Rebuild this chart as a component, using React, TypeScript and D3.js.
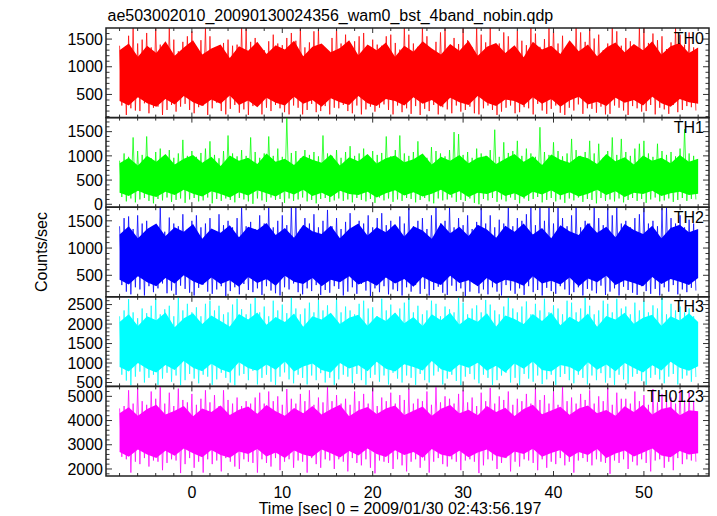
import React from 'react';
import * as d3 from 'd3';

const TITLE = 'ae503002010_20090130024356_wam0_bst_4band_nobin.qdp';
const X_LABEL = 'Time [sec] 0 = 2009/01/30 02:43:56.197';
const Y_LABEL = 'Counts/sec';
const T_START = -8;
const T_END = 56;
const X_TICKS = [0, 10, 20, 30, 40, 50];

// half-second extreme highs / lows
const TH0_HI = [
  1380, 1300, 1560, 1700, 1420, 1490, 1610, 1350, 1700, 1400, 1320, 1700, 1490, 1280, 1450, 1550,
  1640, 1360, 1480, 1700, 1550, 1330, 1260, 1430, 1490, 1380, 1400, 1700, 1700, 1450, 1520, 1340,
  1300, 1460, 1580, 1420, 1390, 1520, 1610, 1470, 1700, 1350, 1440, 1640, 1670, 1380, 1290, 1520,
  1700, 1420, 1580, 1360, 1460, 1550, 1610, 1330, 1490, 1400, 1380, 1550, 1580, 1430, 1310, 1700,
  1580, 1420, 1360, 1700, 1550, 1300, 1450, 1620, 1700, 1380, 1520, 1410, 1700, 1480, 1350, 1700,
  1580, 1440, 1700, 1330, 1420, 1620, 1550, 1300, 1650, 1470, 1390, 1700, 1600, 1360, 1500, 1700,
  1700, 1420, 1560, 1340, 1380, 1700, 1620, 1450, 1700, 1510, 1580, 1300, 1420, 1700, 1640, 1380,
  1520, 1460, 1350, 1700, 1700, 1430, 1600, 1480, 1550, 1320, 1440, 1700, 1580, 1400, 1620, 1350];
const TH0_LO = [
  300, 130, 250, 210, 200, 340, 160, 260, 280, 130, 220, 310, 190, 280, 330, 220,
  160, 270, 300, 130, 250, 350, 200, 140, 240, 310, 170, 230, 130, 290, 320, 140,
  260, 200, 310, 250, 180, 140, 300, 260, 140, 220, 330, 180, 200, 290, 140, 260,
  250, 310, 200, 160, 300, 140, 230, 280, 190, 260, 320, 220, 140, 300, 180, 250,
  150, 290, 130, 240, 200, 310, 140, 270, 230, 160, 300, 190, 220, 280, 160, 140,
  250, 300, 220, 130, 190, 260, 300, 160, 180, 270, 250, 140, 330, 210, 150, 240,
  300, 170, 130, 260, 210, 320, 150, 250, 240, 170, 280, 140, 150, 300, 260, 210,
  130, 290, 250, 190, 200, 310, 140, 260, 230, 150, 310, 180, 220, 290, 270, 210];
// one-second dense-band edges
const TH0_CORE_HI = [1300, 1420, 1180, 1380, 1250, 1460, 1200, 1350, 1480, 1220, 1330, 1400, 1160, 1370, 1290, 1450, 1230, 1390, 1310, 1470, 1190, 1360, 1420, 1260, 1340, 1480, 1210, 1400, 1300, 1440, 1180, 1380,
  1270, 1460, 1330, 1220, 1410, 1290, 1470, 1200, 1360, 1430, 1250, 1390, 1170, 1450, 1310, 1380, 1230, 1480, 1280, 1400, 1190, 1350, 1440, 1260, 1410, 1300, 1460, 1220, 1370, 1430, 1250, 1350];
const TH0_CORE_LO = [380, 300, 450, 340, 280, 420, 320, 470, 360, 290, 410, 330, 480, 310, 390, 270, 440, 350, 300, 460, 330, 400, 280, 430, 360, 310, 470, 340, 290, 420, 380, 300,
  450, 330, 400, 280, 440, 360, 310, 470, 350, 290, 410, 380, 300, 450, 330, 420, 280, 390, 460, 320, 370, 290, 440, 350, 400, 300, 460, 340, 280, 420, 360, 330];

const TH1_HI = [
  900, 1050, 980, 1380, 1100, 1020, 1400, 950, 1080, 1150, 1000, 1120, 960, 1050, 1330, 1000,
  1100, 980, 1060, 1150, 1300, 1020, 950, 1100, 1420, 1050, 990, 1120, 1000, 1380, 1080, 960,
  1050, 1400, 1000, 1150, 980, 1780, 1060, 1100, 950, 1120, 1020, 1080, 990, 1420, 1050, 1000,
  1120, 960, 1080, 1200, 1000, 1050, 1150, 980, 1100, 1020, 1060, 1400, 990, 1120, 1420, 1050,
  1000, 1080, 1300, 1020, 960, 1180, 1100, 1050, 990, 1120, 1490, 1450, 1020, 1080, 960, 1150,
  1050, 1000, 1120, 1540, 980, 1280, 1060, 1100, 1310, 1000, 1150, 1050, 980, 1590, 1080, 1020,
  1280, 1100, 990, 1050, 1350, 1120, 1000, 1080, 1310, 1050, 1250, 960, 1100, 1380, 1020, 1350,
  1080, 1000, 1150, 1250, 1310, 1050, 980, 1250, 1100, 1020, 1080, 990, 1150, 1550, 1050, 1000];
const TH1_LO = [
  150, 60, 120, 40, 100, 130, 70, 20, 110, 80, 140, 50, 90, 120, 30, 100,
  130, 60, 80, 140, 20, 110, 70, 120, 90, 40, 130, 100, 60, 10, 120, 80,
  50, 140, 90, 110, 30, 120, 70, 100, 140, 60, 90, 20, 110, 130, 50, 80,
  120, 70, 100, 40, 130, 90, 60, 110, 30, 140, 80, 120, 50, 100, 70, 130,
  110, 40, 90, 130, 60, 20, 120, 80, 100, 140, 50, 90, 70, 120, 30, 0,
  110, 80, 130, 50, 100, 60, 140, 90, 20, 120, 70, 110, 150, 40, 90, 130,
  60, 100, 30, 120, 80, 140, 50, 110, 90, 20, 130, 70, 100, 60, 120, 40,
  90, 130, 70, 110, 30, 100, 140, 60, 80, 120, 50, 90, 130, 70, 110, 100];
const TH1_CORE_HI = [850, 960, 800, 1000, 880, 1040, 820, 940, 1020, 860, 980, 790, 1010, 900, 960, 830, 1050, 880, 940, 810, 1000, 920, 860, 1030, 800, 970, 890, 1040, 840, 950, 1010, 870,
  930, 1050, 820, 980, 900, 1020, 850, 960, 1000, 830, 940, 1040, 880, 990, 810, 1030, 920, 860, 1000, 950, 830, 1040, 890, 970, 820, 1010, 900, 960, 850, 1020, 880, 940];
const TH1_CORE_LO = [240, 170, 280, 200, 150, 260, 190, 300, 220, 160, 270, 210, 140, 250, 180, 290, 230, 160, 270, 200, 300, 170, 240, 150, 280, 210, 190, 260, 140, 230, 290, 180,
  250, 160, 220, 300, 190, 270, 150, 240, 210, 280, 170, 230, 140, 260, 200, 290, 180, 250, 160, 220, 300, 190, 270, 150, 240, 210, 280, 170, 230, 260, 190, 220];

const TH2_HI = [
  1400, 1550, 1580, 1350, 1600, 1450, 1500, 1380, 1420, 1740, 1300, 1560, 1450, 1400, 1620, 1350,
  1500, 1600, 1380, 1450, 1550, 1300, 1620, 1420, 1500, 1380, 1550, 1740, 1400, 1480, 1350, 1600,
  1450, 1740, 1380, 1500, 1600, 1420, 1740, 1740, 1350, 1550, 1450, 1620, 1380, 1500, 1700, 1400,
  1550, 1350, 1480, 1640, 1400, 1500, 1450, 1600, 1380, 1550, 1640, 1420, 1500, 1350, 1580, 1450,
  1740, 1400, 1500, 1550, 1350, 1600, 1740, 1450, 1500, 1740, 1380, 1550, 1420, 1600, 1350, 1480,
  1740, 1450, 1600, 1380, 1520, 1450, 1740, 1400, 1550, 1500, 1620, 1740, 1420, 1740, 1500, 1740,
  1450, 1740, 1550, 1400, 1600, 1740, 1380, 1500, 1450, 1740, 1550, 1420, 1740, 1600, 1740, 1450,
  1500, 1380, 1550, 1620, 1740, 1450, 1500, 1400, 1740, 1740, 1550, 1450, 1600, 1380, 1520, 1450];
const TH2_LO = [
  320, 200, 150, 280, 240, 130, 300, 190, 260, 350, 170, 220, 140, 310, 250, 180,
  130, 270, 330, 200, 160, 240, 300, 120, 210, 280, 150, 340, 230, 190, 260, 140,
  300, 220, 170, 130, 280, 240, 350, 190, 150, 260, 210, 320, 140, 230, 180, 300,
  250, 130, 200, 280, 160, 340, 220, 120, 260, 190, 300, 150, 240, 210, 130, 280,
  200, 320, 160, 250, 130, 230, 290, 180, 140, 310, 210, 260, 120, 200, 340, 170,
  240, 150, 280, 200, 130, 320, 220, 160, 260, 140, 300, 190, 230, 130, 270, 210,
  160, 300, 240, 140, 190, 280, 130, 250, 220, 170, 310, 140, 200, 260, 130, 290,
  230, 180, 140, 300, 210, 160, 250, 130, 280, 200, 320, 150, 240, 190, 270, 220];
const TH2_CORE_HI = [1250, 1400, 1180, 1350, 1450, 1220, 1380, 1300, 1440, 1170, 1360, 1280, 1420, 1200, 1390, 1330, 1460, 1240, 1370, 1190, 1430, 1310, 1260, 1410, 1180, 1350, 1450, 1230, 1380, 1290, 1440, 1210,
  1400, 1320, 1170, 1460, 1270, 1390, 1220, 1430, 1340, 1190, 1410, 1300, 1450, 1250, 1370, 1180, 1420, 1310, 1240, 1460, 1280, 1390, 1200, 1440, 1330, 1260, 1410, 1180, 1370, 1430, 1290, 1350];
const TH2_CORE_LO = [420, 330, 480, 370, 300, 450, 350, 500, 390, 320, 460, 340, 410, 290, 470, 360, 430, 310, 490, 380, 340, 450, 300, 420, 370, 480, 330, 400, 310, 460, 350, 430,
  290, 470, 380, 320, 490, 360, 410, 300, 450, 340, 420, 380, 310, 480, 350, 400, 330, 460, 300, 440, 370, 490, 320, 410, 360, 300, 470, 340, 430, 380, 320, 450];

const TH3_HI = [
  2200, 2350, 2640, 2300, 2150, 2400, 2280, 2470, 2640, 2250, 2380, 2470, 2200, 2680, 2350, 2520,
  2300, 2430, 2200, 2520, 2600, 2350, 2470, 2250, 2300, 2500, 2650, 2380, 2250, 2520, 2680, 2300,
  2450, 2200, 2600, 2350, 2500, 2280, 2680, 2400, 2250, 2400, 2550, 2300, 2620, 2350, 2480, 2200,
  2680, 2300, 2450, 2350, 2250, 2520, 2600, 2400, 2430, 2200, 2650, 2350, 2500, 2280, 2400, 2550,
  2680, 2300, 2470, 2250, 2350, 2600, 2520, 2200, 2450, 2380, 2300, 2680, 2550, 2250, 2400, 2480,
  2300, 2620, 2500, 2350, 2250, 2450, 2680, 2400, 2300, 2450, 2580, 2250, 2520, 2350, 2650, 2300,
  2480, 2400, 2250, 2600, 2550, 2300, 2400, 2680, 2470, 2250, 2350, 2600, 2520, 2300, 2650, 2400,
  2450, 2250, 2550, 2350, 2600, 2300, 2480, 2400, 2680, 2250, 2520, 2350, 2450, 2300, 2400, 2200];
const TH3_LO = [
  700, 550, 430, 650, 780, 500, 620, 700, 440, 600, 750, 520, 680, 430, 560, 720,
  600, 480, 700, 650, 440, 580, 750, 620, 500, 430, 680, 720, 560, 800, 450, 620,
  700, 520, 440, 650, 760, 580, 480, 700, 620, 450, 680, 560, 740, 500, 620, 440,
  580, 700, 650, 480, 720, 560, 440, 620, 700, 520, 680, 450, 750, 600, 500, 680,
  620, 440, 720, 560, 500, 680, 780, 450, 600, 700, 540, 430, 650, 720, 580, 480,
  700, 620, 440, 560, 680, 750, 500, 620, 440, 720, 600, 520, 680, 460, 580, 700,
  440, 640, 720, 560, 480, 700, 620, 450, 680, 560, 740, 500, 620, 440, 700, 580,
  470, 650, 720, 540, 440, 620, 700, 580, 480, 650, 720, 450, 600, 680, 520, 640];
const TH3_CORE_HI = [2050, 2250, 1950, 2200, 2100, 2300, 1920, 2150, 2280, 2000, 2220, 2080, 1940, 2260, 2120, 2300, 1980, 2180, 2050, 2270, 1930, 2200, 2120, 2290, 2000, 2160, 2240, 1960, 2210, 2080, 2300, 2020,
  2180, 1950, 2250, 2100, 2290, 1990, 2170, 2060, 2280, 1940, 2220, 2130, 2000, 2260, 2080, 2300, 1970, 2190, 2050, 2270, 1930, 2210, 2120, 2290, 2010, 2160, 2240, 1960, 2200, 2090, 2280, 2050];
const TH3_CORE_LO = [900, 780, 1000, 850, 760, 950, 820, 1050, 880, 790, 980, 840, 760, 1020, 870, 800, 960, 830, 1040, 780, 910, 990, 820, 760, 1000, 860, 940, 790, 1030, 850, 780, 970,
  900, 810, 1050, 840, 770, 960, 880, 1010, 800, 930, 760, 990, 850, 1040, 820, 780, 950, 900, 770, 1020, 830, 960, 790, 1000, 870, 760, 940, 810, 1030, 880, 800, 920];

const TH0123_HI = [
  4500, 4600, 5250, 4700, 5320, 4800, 4650, 5200, 4900, 5380, 4700, 5150, 4600, 5320, 4850, 4750,
  5100, 4650, 4900, 5250, 4750, 5050, 4600, 5250, 4850, 4700, 4950, 4600, 4800, 4700, 4950, 5150,
  4700, 5200, 4800, 5000, 4650, 5300, 4900, 4700, 5100, 4800, 5250, 4650, 4950, 4750, 5380, 4800,
  5050, 4700, 4900, 4650, 5200, 4800, 5100, 4700, 5350, 4600, 4950, 4800, 5150, 4700, 5050, 4850,
  5300, 4700, 4900, 4800, 5200, 4650, 5380, 4750, 5000, 4900, 4700, 5100, 5250, 4750, 4950, 4600,
  5150, 4800, 5350, 4700, 5000, 4850, 5200, 4650, 4900, 4800, 5100, 4700, 5300, 4850, 5050, 4700,
  5200, 4650, 5380, 4800, 4950, 4700, 5100, 4850, 5250, 4700, 5000, 4800, 5350, 4650, 5150, 4900,
  4900, 4700, 5200, 4800, 5050, 4650, 5300, 4750, 5100, 4800, 4950, 4700, 5250, 4850, 5150, 4800];
const TH0123_LO = [
  2500, 2400, 1850, 2300, 2200, 2450, 2100, 2350, 2300, 1950, 2250, 2400, 2350, 1830, 2200, 2450,
  2050, 2300, 1850, 2400, 2200, 2350, 1900, 2450, 2300, 2100, 2000, 2400, 2300, 2250, 1850, 2400,
  2250, 2100, 2450, 1950, 2300, 2400, 2050, 2350, 2300, 1850, 2450, 2200, 2050, 2400, 2350, 2000,
  2400, 2300, 1900, 2450, 2250, 2150, 2400, 2050, 1820, 2350, 2300, 2250, 2000, 2400, 2150, 1900,
  2300, 2400, 2050, 2350, 1850, 2300, 2450, 2200, 2100, 2400, 2300, 1950, 2350, 2400, 2300, 1830,
  2150, 2400, 2350, 2000, 2250, 2450, 1900, 2300, 2100, 2400, 2350, 2250, 1950, 2400, 2050, 2300,
  2200, 2450, 2150, 2300, 1850, 2350, 2450, 2300, 2150, 2400, 2300, 2250, 1800, 2350, 2250, 2400,
  2000, 2300, 2150, 2400, 2250, 1900, 2350, 2400, 2050, 2300, 1950, 2450, 2200, 2400, 2350, 2300];
const TH0123_CORE_HI = [4300, 4550, 4200, 4480, 4650, 4250, 4400, 4600, 4180, 4500, 4350, 4620, 4230, 4450, 4580, 4280, 4640, 4380, 4200, 4520, 4300, 4600, 4250, 4470, 4650, 4180, 4420, 4560, 4270, 4500, 4620, 4230,
  4400, 4580, 4200, 4490, 4640, 4300, 4450, 4220, 4600, 4350, 4530, 4190, 4480, 4650, 4260, 4410, 4570, 4240, 4500, 4620, 4300, 4440, 4200, 4590, 4350, 4650, 4250, 4480, 4560, 4220, 4430, 4380];
const TH0123_CORE_LO = [2700, 2500, 2800, 2600, 2450, 2750, 2550, 2850, 2650, 2480, 2780, 2580, 2460, 2720, 2620, 2820, 2520, 2680, 2450, 2760, 2600, 2500, 2800, 2650, 2470, 2740, 2560, 2850, 2620, 2490, 2770, 2580,
  2700, 2460, 2820, 2600, 2520, 2750, 2480, 2680, 2800, 2550, 2450, 2720, 2620, 2840, 2500, 2660, 2780, 2470, 2700, 2580, 2820, 2450, 2640, 2760, 2520, 2680, 2850, 2560, 2480, 2740, 2600, 2650];

const PANELS = [
  { name: 'TH0', color: '#ff0000', domain: [82, 1700], labels: [500, 1000, 1500], minor: 100, hi: TH0_HI, lo: TH0_LO, coreHi: TH0_CORE_HI, coreLo: TH0_CORE_LO },
  { name: 'TH1', color: '#00ff00', domain: [-60, 1790], labels: [0, 500, 1000, 1500], minor: 100, hi: TH1_HI, lo: TH1_LO, coreHi: TH1_CORE_HI, coreLo: TH1_CORE_LO },
  { name: 'TH2', color: '#0000ff', domain: [105, 1750], labels: [500, 1000, 1500], minor: 100, hi: TH2_HI, lo: TH2_LO, coreHi: TH2_CORE_HI, coreLo: TH2_CORE_LO },
  { name: 'TH3', color: '#00ffff', domain: [400, 2700], labels: [500, 1000, 1500, 2000, 2500], minor: 100, hi: TH3_HI, lo: TH3_LO, coreHi: TH3_CORE_HI, coreLo: TH3_CORE_LO },
  { name: 'TH0123', color: '#ff00ff', domain: [1710, 5410], labels: [2000, 3000, 4000, 5000], minor: 200, hi: TH0123_HI, lo: TH0123_LO, coreHi: TH0123_CORE_HI, coreLo: TH0123_CORE_LO },
];

const W = 717;
const H = 516;
const LEFT = 106;
const RIGHT = 709;
const TOP = 28;
const BOTTOM = 476;
const FONT = '"Liberation Sans", Arial, Helvetica, sans-serif';

export default function App() {
  const x = d3.scaleLinear().domain([-9.5, 57.2]).range([LEFT, RIGHT]);
  const ph = (BOTTOM - TOP) / PANELS.length;
  const xMinor = d3.range(-8, 57, 2);

  return (
    <svg width={W} height={H} style={{ position: 'absolute', left: 0, top: 0, background: '#fff' }} fontFamily={FONT}>
      <defs>
        {PANELS.map((p, i) => (
          <clipPath id={`clip${i}`} key={i}>
            <rect x={LEFT} y={TOP + i * ph} width={RIGHT - LEFT} height={ph} />
          </clipPath>
        ))}
      </defs>
      <text x={107.5} y={20.5} fontSize={16} fill="#000">{TITLE}</text>
      {PANELS.map((p, i) => {
        const top = TOP + i * ph;
        const bot = top + ph;
        const y = d3.scaleLinear().domain(p.domain).range([bot, top]);
        const n = p.hi.length;
        const step = (T_END - T_START) / n;
        const pts: [number, number][] = [];
        p.hi.forEach((v, k) => {
          pts.push([x(T_START + k * step), y(v)]);
          pts.push([x(T_START + (k + 0.5) * step), y(p.lo[k])]);
        });
        const m = p.coreHi.length;
        const area = d3.area<number>()
          .x((_, j) => x(T_START + (j * (T_END - T_START)) / (m - 1)))
          .y0((_, j) => y(p.coreLo[j]))
          .y1((v) => y(v));
        const line = d3.line();
        const yMinor = d3.range(Math.ceil(p.domain[0] / p.minor) * p.minor, p.domain[1], p.minor);
        return (
          <g key={p.name}>
            <g clipPath={`url(#clip${i})`}>
              <path d={area(p.coreHi) || ''} fill={p.color} />
              <path d={line(pts) || ''} fill="none" stroke={p.color} strokeWidth={1} strokeOpacity={0.75} />
            </g>
            {xMinor.map((t) => {
              const major = t % 10 === 0;
              const len = major ? 5 : 3;
              return (
                <g key={`xt${t}`} stroke="#333" strokeWidth={1}>
                  <line x1={x(t)} x2={x(t)} y1={top} y2={top + len} />
                  <line x1={x(t)} x2={x(t)} y1={bot} y2={bot - len} />
                </g>
              );
            })}
            {yMinor.map((v) => {
              const major = p.labels.includes(v);
              const len = major ? 6 : 3.5;
              return (
                <g key={`yt${v}`} stroke="#333" strokeWidth={1}>
                  <line x1={LEFT} x2={LEFT + len} y1={y(v)} y2={y(v)} />
                  <line x1={RIGHT} x2={RIGHT - len} y1={y(v)} y2={y(v)} />
                </g>
              );
            })}
            {p.labels.map((v) => (
              <text key={`yl${v}`} x={103} y={y(v) + 5.7} fontSize={16} textAnchor="end" fill="#000">{v}</text>
            ))}
            <text x={704} y={top + 15.5} fontSize={16} textAnchor="end" fill="#000">{p.name}</text>
            <rect x={LEFT} y={top} width={RIGHT - LEFT} height={ph} fill="none" stroke="#222" strokeWidth={1.5} />
          </g>
        );
      })}
      {X_TICKS.map((t) => (
        <text key={`xl${t}`} x={x(t)} y={498} fontSize={16} textAnchor="middle" fill="#000">{t}</text>
      ))}
      <text x={400} y={514} fontSize={16} textAnchor="middle" fill="#000">{X_LABEL}</text>
      <text transform={`translate(47,${(TOP + BOTTOM) / 2}) rotate(-90)`} fontSize={16} textAnchor="middle" fill="#000">{Y_LABEL}</text>
    </svg>
  );
}
